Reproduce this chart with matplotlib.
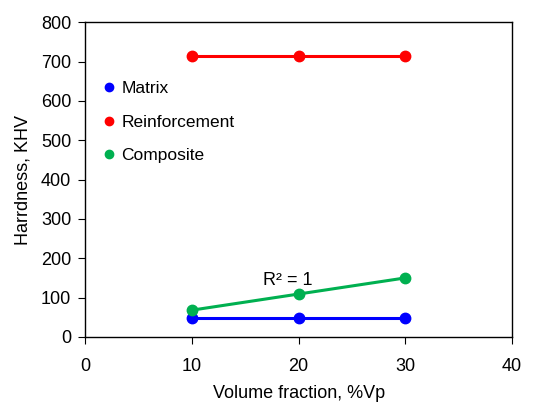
import matplotlib
matplotlib.use("Agg")
import matplotlib.pyplot as plt
from matplotlib.lines import Line2D

plt.rcParams['font.family'] = ['Liberation Sans', 'DejaVu Sans']

volume_fraction = [10, 20, 30]
matrix = [48, 48, 48]
reinforcement = [715, 715, 715]
composite = [68, 109, 150]
series_names = ["Matrix", "Reinforcement", "Composite"]
colors = ["#0000FF", "#FF0000", "#00B050"]

fig = plt.figure(figsize=(5.46, 4.03), dpi=100)
ax = fig.add_axes([0.156, 0.164, 0.782, 0.781])

for ys, c in zip([matrix, reinforcement, composite], colors):
    ax.plot(volume_fraction, ys, color=c, lw=2.2, marker='o', markersize=7.5)

ax.set_xlim(0, 40)
ax.set_ylim(0, 800)
ax.set_xticks([0, 10, 20, 30, 40])
ax.set_yticks(range(0, 801, 100))
ax.tick_params(direction='out', length=5, labelsize=13)
ax.tick_params(axis='x', pad=10.5)
ax.tick_params(axis='y', pad=5)
for s in ax.spines.values():
    s.set_linewidth(1.0)

ax.set_xlabel("Volume fraction, %Vp", fontsize=13, labelpad=7)
ax.set_ylabel("Harrdness, KHV", fontsize=13, labelpad=7)

ax.text(19, 143, "R² = 1", fontsize=13, ha='center', va='center')

handles = [Line2D([], [], color=c, marker='o', linestyle='none', markersize=6) for c in colors]
ax.legend(handles, series_names, loc='upper left', bbox_to_anchor=(0.02, 0.835),
          frameon=False, handletextpad=0.2, labelspacing=1.05, fontsize=12.5,
          handlelength=1.0, borderaxespad=0)

fig.savefig("out.png", dpi=100)
